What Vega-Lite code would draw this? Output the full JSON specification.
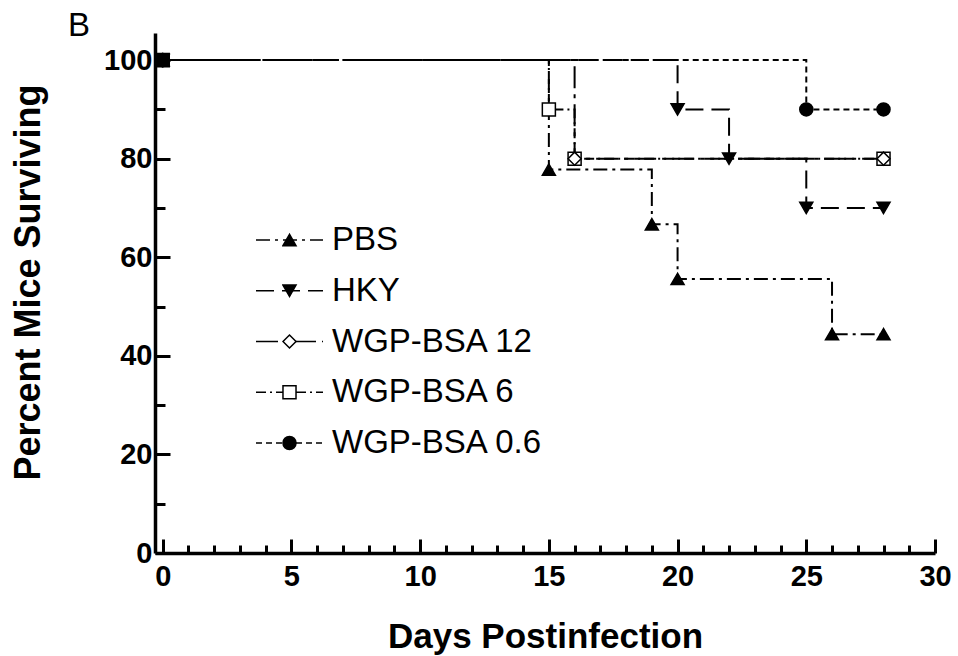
{
  "$schema": "https://vega.github.io/schema/vega-lite/v6.json",
  "width": 780,
  "height": 520,
  "autosize": "none",
  "padding": {"left": 155, "top": 33, "right": 23, "bottom": 103},
  "background": "white",
  "title": {"text": "B", "anchor": "start", "frame": "group", "fontSize": 33, "fontWeight": "normal", "font": "Liberation Sans", "color": "black", "baseline": "alphabetic", "offset": -4, "dx": -87, "dy": 32},
  "config": {"view": {"stroke": null}, "font": "Liberation Sans"},
  "data": {"values": [
    {"series": "PBS", "day": 0, "percent": 100},
    {"series": "PBS", "day": 15, "percent": 77.8},
    {"series": "PBS", "day": 19, "percent": 66.7},
    {"series": "PBS", "day": 20, "percent": 55.6},
    {"series": "PBS", "day": 26, "percent": 44.4},
    {"series": "PBS", "day": 28, "percent": 44.4},
    {"series": "HKY", "day": 0, "percent": 100},
    {"series": "HKY", "day": 20, "percent": 90},
    {"series": "HKY", "day": 22, "percent": 80},
    {"series": "HKY", "day": 25, "percent": 70},
    {"series": "HKY", "day": 28, "percent": 70},
    {"series": "WGP-BSA 12", "day": 0, "percent": 100},
    {"series": "WGP-BSA 12", "day": 16, "percent": 80},
    {"series": "WGP-BSA 12", "day": 28, "percent": 80},
    {"series": "WGP-BSA 6", "day": 0, "percent": 100},
    {"series": "WGP-BSA 6", "day": 15, "percent": 90},
    {"series": "WGP-BSA 6", "day": 16, "percent": 80},
    {"series": "WGP-BSA 6", "day": 28, "percent": 80},
    {"series": "WGP-BSA 0.6", "day": 0, "percent": 100},
    {"series": "WGP-BSA 0.6", "day": 25, "percent": 90},
    {"series": "WGP-BSA 0.6", "day": 28, "percent": 90}
  ]},
  "resolve": {"axis": {"x": "independent", "y": "independent"}},
  "layer": [
    {
      "mark": {"type": "line", "interpolate": "step-after", "color": "black", "strokeWidth": 2},
      "encoding": {
        "x": {
          "field": "day", "type": "quantitative",
          "scale": {"domain": [-0.3, 30], "nice": false, "zero": false},
          "axis": {
            "orient": "bottom",
            "values": [0, 5, 10, 15, 20, 25, 30],
            "tickSize": -14,
            "tickWidth": 3, "tickColor": "black",
            "domainWidth": 3.5, "domainColor": "black",
            "labelFontSize": 29, "labelFontWeight": "bold", "labelColor": "black", "labelFont": "Liberation Sans",
            "labelPadding": 23, "labelBaseline": "top", "labelFlush": false, "labelOverlap": false, "labelBound": false,
            "grid": false,
            "title": "Days Postinfection", "titleFontSize": 35, "titleFontWeight": "bold", "titleColor": "black", "titleFont": "Liberation Sans",
            "titleX": 390, "titleY": 94, "titleBaseline": "alphabetic", "titleAlign": "center"
          }
        },
        "y": {
          "field": "percent", "type": "quantitative",
          "scale": {"domain": [0, 105.5], "nice": false},
          "axis": {
            "orient": "left",
            "values": [0, 20, 40, 60, 80, 100],
            "tickSize": -15,
            "tickWidth": 3, "tickColor": "black",
            "domainWidth": 3.5, "domainColor": "black",
            "labelFontSize": 29, "labelFontWeight": "bold", "labelColor": "black", "labelFont": "Liberation Sans",
            "labelPadding": 18, "labelFlush": false, "labelOverlap": false, "labelBound": false,
            "grid": false,
            "title": "Percent Mice Surviving", "titleFontSize": 36, "titleFontWeight": "bold", "titleColor": "black", "titleFont": "Liberation Sans",
            "titleX": -116, "titleY": 249, "titleBaseline": "alphabetic", "titleAlign": "center", "titleAngle": -90
          }
        },
        "strokeDash": {
          "field": "series", "type": "nominal", "sort": null,
          "scale": {"range": [[14,5,3,5],[18,8],[22,6,4,6],[10,4,2,4],[6,4]]},
          "legend": {
            "title": null, "orient": "none", "legendX": 100, "legendY": 182,
            "symbolType": "stroke", "symbolSize": 4489, "symbolStrokeWidth": 1.5, "symbolStrokeColor": "black",
            "labelFontSize": 33, "labelFont": "Liberation Sans", "labelColor": "black", "labelOffset": 8, "labelLimit": 400,
            "clipHeight": 50, "rowPadding": 0.75, "padding": 0
          }
        }
      }
    },
    {
      "mark": {"type": "point", "filled": true, "size": 170, "stroke": "black", "strokeWidth": 1.5, "opacity": 1},
      "encoding": {
        "x": {
          "field": "day", "type": "quantitative",
          "axis": {
            "orient": "bottom",
            "values": [1,2,3,4,6,7,8,9,11,12,13,14,16,17,18,19,21,22,23,24,26,27,28,29],
            "tickSize": -8, "tickWidth": 3, "tickColor": "black",
            "labels": false, "domain": false, "grid": false, "title": null
          }
        },
        "y": {
          "field": "percent", "type": "quantitative",
          "axis": {
            "orient": "left",
            "values": [10, 30, 50, 70, 90],
            "tickSize": -10, "tickWidth": 3, "tickColor": "black",
            "labels": false, "domain": false, "grid": false, "title": null
          }
        },
        "order": {"field": "series", "sort": "descending"},
        "shape": {
          "field": "series", "type": "nominal",
          "scale": {"domain": ["PBS", "HKY", "WGP-BSA 12", "WGP-BSA 6", "WGP-BSA 0.6"], "range": ["triangle-up", "triangle-down", "diamond", "square", "circle"]},
          "legend": {
            "title": null, "orient": "none", "legendX": 127, "legendY": 182,
            "symbolSize": 170, "symbolStrokeWidth": 1.5, "symbolStrokeColor": "black", "symbolOpacity": 1,
            "labelFontSize": 10, "labelOpacity": 0, "labelExpr": "''",
            "clipHeight": 50, "rowPadding": 0.75, "padding": 0,
            "encode": {"symbols": {"update": {"stroke": {"value": "black"}, "strokeWidth": {"value": 1.5}}}}
          }
        },
        "fill": {
          "field": "series", "type": "nominal",
          "scale": {"domain": ["PBS", "HKY", "WGP-BSA 12", "WGP-BSA 6", "WGP-BSA 0.6"], "range": ["black", "black", "white", "white", "black"]},
          "legend": {
            "title": null, "orient": "none", "legendX": 127, "legendY": 182,
            "symbolSize": 170, "symbolStrokeWidth": 1.5, "symbolStrokeColor": "black", "symbolOpacity": 1,
            "labelFontSize": 10, "labelOpacity": 0, "labelExpr": "''",
            "clipHeight": 50, "rowPadding": 0.75, "padding": 0,
            "encode": {"symbols": {"update": {"stroke": {"value": "black"}, "strokeWidth": {"value": 1.5}}}}
          }
        }
      }
    }
  ]
}
